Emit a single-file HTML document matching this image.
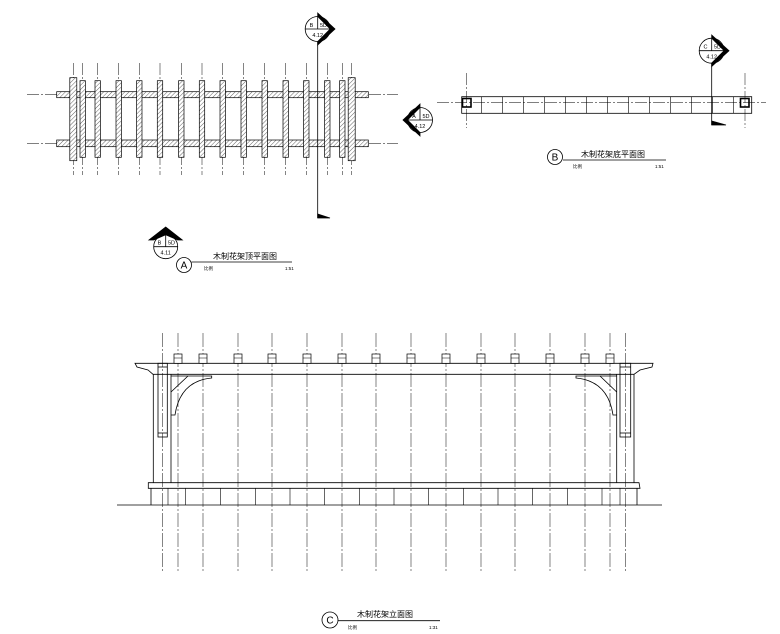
<!DOCTYPE html>
<html><head><meta charset="utf-8"><style>
html,body{margin:0;padding:0;background:#fff}
svg{display:block}
text{font-family:"Liberation Sans","Noto Sans CJK SC",sans-serif;fill:#000}
</style></head><body>
<svg width="780" height="634" viewBox="0 0 780 634" xmlns="http://www.w3.org/2000/svg">
<defs>
<pattern id="h" width="3" height="3" patternUnits="userSpaceOnUse" patternTransform="rotate(45)">
<rect width="3" height="3" fill="#fff"/><line x1="0" y1="0" x2="0" y2="3" stroke="#555" stroke-width="0.9"/>
</pattern>
</defs>
<g fill="none" stroke="#000" stroke-width="0.8">
<!-- PLAN A centerlines -->
<g stroke="#333" stroke-width="0.6" stroke-dasharray="12,2,2,2">
<line x1="27" y1="94.7" x2="398" y2="94.7"/>
<line x1="27" y1="143.3" x2="398" y2="143.3"/>
<line x1="73.3" y1="63" x2="73.3" y2="175"/><line x1="82.7" y1="63" x2="82.7" y2="175"/>
<line x1="97.7" y1="63" x2="97.7" y2="175"/><line x1="118.7" y1="63" x2="118.7" y2="175"/>
<line x1="139.3" y1="63" x2="139.3" y2="175"/><line x1="160" y1="63" x2="160" y2="175"/>
<line x1="181.3" y1="63" x2="181.3" y2="175"/><line x1="202" y1="63" x2="202" y2="175"/>
<line x1="222.7" y1="63" x2="222.7" y2="175"/><line x1="243.7" y1="63" x2="243.7" y2="175"/>
<line x1="264.7" y1="63" x2="264.7" y2="175"/><line x1="285.7" y1="63" x2="285.7" y2="175"/>
<line x1="306.3" y1="63" x2="306.3" y2="175"/><line x1="327.3" y1="63" x2="327.3" y2="175"/>
<line x1="342.3" y1="63" x2="342.3" y2="175"/><line x1="351.7" y1="63" x2="351.7" y2="175"/>
</g>
<g fill="url(#h)" stroke-width="0.7">
<rect x="56.7" y="91.7" width="311.6" height="6"/>
<rect x="56.7" y="140" width="311.6" height="6.7"/>
<rect x="69.8" y="77.7" width="7" height="83"/><rect x="348.2" y="77.7" width="7" height="83"/>
<rect x="80" y="80.7" width="5.4" height="76.6"/><rect x="95" y="80.7" width="5.4" height="76.6"/>
<rect x="116" y="80.7" width="5.4" height="76.6"/><rect x="136.6" y="80.7" width="5.4" height="76.6"/>
<rect x="157.3" y="80.7" width="5.4" height="76.6"/><rect x="178.6" y="80.7" width="5.4" height="76.6"/>
<rect x="199.3" y="80.7" width="5.4" height="76.6"/><rect x="220" y="80.7" width="5.4" height="76.6"/>
<rect x="241" y="80.7" width="5.4" height="76.6"/><rect x="262" y="80.7" width="5.4" height="76.6"/>
<rect x="283" y="80.7" width="5.4" height="76.6"/><rect x="303.6" y="80.7" width="5.4" height="76.6"/>
<rect x="324.6" y="80.7" width="5.4" height="76.6"/><rect x="339.6" y="80.7" width="5.4" height="76.6"/>
</g>
<!-- section B on plan A -->
<line x1="317.7" y1="42" x2="317.7" y2="218"/>
<path d="M317.7 214 L330 218 L317.7 218 Z" fill="#000"/>
<circle cx="317.7" cy="29" r="12.5" fill="#fff"/>
<line x1="305.2" y1="29" x2="330.2" y2="29"/><line x1="317.7" y1="16.5" x2="317.7" y2="29"/>
<path d="M317.7 13 L335 29 L317.7 45 L317.7 41.5 L330.2 29 L317.7 16.5 Z" fill="#000"/>
<!-- section A symbol -->
<circle cx="420" cy="120" r="12.5" fill="#fff"/>
<line x1="407.5" y1="120" x2="432.5" y2="120"/><line x1="420" y1="107.5" x2="420" y2="120"/>
<path d="M420 104 L403 120 L420 136 L420 132.5 L407.5 120 L420 107.5 Z" fill="#000"/>
<!-- label A symbol -->
<circle cx="165.7" cy="246.7" r="12" fill="#fff"/>
<line x1="153.7" y1="246.7" x2="177.7" y2="246.7"/><line x1="165.7" y1="234.7" x2="165.7" y2="246.7"/>
<path d="M149 240 L165.7 227 L182.3 240 L177.7 240 L165.7 234.7 L153.7 240 Z" fill="#000"/>
<circle cx="184" cy="265" r="7.5"/>
<line x1="191.5" y1="262" x2="292" y2="262"/>

<!-- PLAN B -->
<g stroke="#333" stroke-width="0.6" stroke-dasharray="12,2,2,2">
<line x1="437" y1="102.7" x2="766" y2="102.7"/>
<line x1="466.7" y1="73" x2="466.7" y2="128"/>
<line x1="745" y1="73" x2="745" y2="128"/>
</g>
<rect x="461.7" y="96.7" width="290" height="16.6"/>
<g stroke-width="0.6">
<line x1="481.7" y1="96.7" x2="481.7" y2="113.3"/><line x1="502.7" y1="96.7" x2="502.7" y2="113.3"/>
<line x1="523.7" y1="96.7" x2="523.7" y2="113.3"/><line x1="544.7" y1="96.7" x2="544.7" y2="113.3"/>
<line x1="565.7" y1="96.7" x2="565.7" y2="113.3"/><line x1="586.7" y1="96.7" x2="586.7" y2="113.3"/>
<line x1="607.7" y1="96.7" x2="607.7" y2="113.3"/><line x1="628.7" y1="96.7" x2="628.7" y2="113.3"/>
<line x1="649.7" y1="96.7" x2="649.7" y2="113.3"/><line x1="670.7" y1="96.7" x2="670.7" y2="113.3"/>
<line x1="691.7" y1="96.7" x2="691.7" y2="113.3"/><line x1="712.7" y1="96.7" x2="712.7" y2="113.3"/>
<line x1="733.7" y1="96.7" x2="733.7" y2="113.3"/>
</g>
<rect x="462.5" y="98.5" width="8.5" height="8.5" stroke-width="1.6"/>
<rect x="740.5" y="98.5" width="8.5" height="8.5" stroke-width="1.6"/>
<line x1="711.7" y1="63" x2="711.7" y2="125"/>
<path d="M711.7 121 L726 125 L711.7 125 Z" fill="#000"/>
<circle cx="711.7" cy="50.7" r="12.5" fill="#fff"/>
<line x1="699.2" y1="50.7" x2="724.2" y2="50.7"/><line x1="711.7" y1="38.2" x2="711.7" y2="50.7"/>
<path d="M711.7 35 L729 50.7 L711.7 66.5 L711.7 63 L724.2 50.7 L711.7 38.2 Z" fill="#000"/>
<circle cx="555" cy="157" r="7.5"/>
<line x1="563" y1="160" x2="666" y2="160"/>

<!-- ELEVATION C -->
<g stroke="#333" stroke-width="0.6" stroke-dasharray="14,2,2,2">
<line x1="162.7" y1="333" x2="162.7" y2="572"/><line x1="178" y1="333" x2="178" y2="572"/>
<line x1="203" y1="333" x2="203" y2="572"/><line x1="238" y1="333" x2="238" y2="572"/>
<line x1="272" y1="333" x2="272" y2="572"/><line x1="307" y1="333" x2="307" y2="572"/>
<line x1="342" y1="333" x2="342" y2="572"/><line x1="376" y1="333" x2="376" y2="572"/>
<line x1="411" y1="333" x2="411" y2="572"/><line x1="446" y1="333" x2="446" y2="572"/>
<line x1="481" y1="333" x2="481" y2="572"/><line x1="515" y1="333" x2="515" y2="572"/>
<line x1="550" y1="333" x2="550" y2="572"/><line x1="585" y1="333" x2="585" y2="572"/>
<line x1="610" y1="333" x2="610" y2="572"/><line x1="625.7" y1="333" x2="625.7" y2="572"/>
</g>
<!-- beam -->
<path d="M135 363.3 L653 363.3 L652 367 L640 370 L634 374.3 L153 374.3 L148 370 L137 367 Z"/>
<!-- rafter blocks -->
<g fill="#fff" stroke-width="0.7">
<rect x="174" y="354" width="8" height="9.3"/><rect x="199" y="354" width="8" height="9.3"/>
<rect x="234" y="354" width="8" height="9.3"/><rect x="268" y="354" width="8" height="9.3"/>
<rect x="303" y="354" width="8" height="9.3"/><rect x="338" y="354" width="8" height="9.3"/>
<rect x="372" y="354" width="8" height="9.3"/><rect x="407" y="354" width="8" height="9.3"/>
<rect x="442" y="354" width="8" height="9.3"/><rect x="477" y="354" width="8" height="9.3"/>
<rect x="511" y="354" width="8" height="9.3"/><rect x="546" y="354" width="8" height="9.3"/>
<rect x="581" y="354" width="8" height="9.3"/><rect x="606" y="354" width="8" height="9.3"/>
</g>
<g stroke-width="0.5">
<line x1="174" y1="358" x2="182" y2="358"/><line x1="199" y1="358" x2="207" y2="358"/>
<line x1="234" y1="358" x2="242" y2="358"/><line x1="268" y1="358" x2="276" y2="358"/>
<line x1="303" y1="358" x2="311" y2="358"/><line x1="338" y1="358" x2="346" y2="358"/>
<line x1="372" y1="358" x2="380" y2="358"/><line x1="407" y1="358" x2="415" y2="358"/>
<line x1="442" y1="358" x2="450" y2="358"/><line x1="477" y1="358" x2="485" y2="358"/>
<line x1="511" y1="358" x2="519" y2="358"/><line x1="546" y1="358" x2="554" y2="358"/>
<line x1="581" y1="358" x2="589" y2="358"/><line x1="606" y1="358" x2="614" y2="358"/>
</g>
<!-- posts -->
<line x1="153.3" y1="374.3" x2="153.3" y2="483"/><line x1="171" y1="374.3" x2="171" y2="483"/>
<rect x="158" y="363.3" width="9.3" height="73.7"/>
<line x1="158" y1="367" x2="167.3" y2="367"/><line x1="158" y1="433" x2="167.3" y2="433"/>
<line x1="616.7" y1="374.3" x2="616.7" y2="483"/><line x1="634" y1="374.3" x2="634" y2="483"/>
<rect x="620" y="363.3" width="10.7" height="73.7"/>
<line x1="620" y1="367" x2="630.7" y2="367"/><line x1="620" y1="433" x2="630.7" y2="433"/>
<!-- brackets -->
<path d="M171 376 L211.7 376 L211.7 378 Q180 381 175 415 L171 415"/>
<line x1="171" y1="392" x2="188" y2="376"/>
<path d="M616.7 376 L576 376 L576 378 Q608 381 613 415 L616.7 415"/>
<line x1="616.7" y1="392" x2="600" y2="376"/>
<!-- base -->
<path d="M148.3 482.7 L639 482.7 L640 488.3 L148.3 488.3 Z"/>
<line x1="151" y1="488.3" x2="151" y2="505"/><line x1="637" y1="488.3" x2="637" y2="505"/>
<g stroke-width="0.6">
<line x1="168" y1="488" x2="168" y2="505"/><line x1="185.7" y1="488" x2="185.7" y2="505"/>
<line x1="220.7" y1="488" x2="220.7" y2="505"/><line x1="255.3" y1="488" x2="255.3" y2="505"/>
<line x1="290" y1="488" x2="290" y2="505"/><line x1="324.7" y1="488" x2="324.7" y2="505"/>
<line x1="359.3" y1="488" x2="359.3" y2="505"/><line x1="394" y1="488" x2="394" y2="505"/>
<line x1="428.7" y1="488" x2="428.7" y2="505"/><line x1="463.3" y1="488" x2="463.3" y2="505"/>
<line x1="498" y1="488" x2="498" y2="505"/><line x1="532.7" y1="488" x2="532.7" y2="505"/>
<line x1="567.3" y1="488" x2="567.3" y2="505"/><line x1="602" y1="488" x2="602" y2="505"/>
<line x1="620" y1="488" x2="620" y2="505"/>
</g>
<line x1="117" y1="505" x2="662" y2="505"/>
<circle cx="330" cy="620" r="8"/>
<line x1="338" y1="620.7" x2="440" y2="620.7"/>
</g>
<!-- texts -->
<g font-size="5.5" text-anchor="middle">
<text x="311.5" y="27">B</text><text x="323.5" y="27">5D</text><text x="317.7" y="37">4.12</text>
<text x="414" y="118">A</text><text x="426" y="118">5D</text><text x="420" y="128">4.12</text>
<text x="159.5" y="244.5">B</text><text x="171.5" y="244.5">5D</text><text x="165.7" y="254.5">4.11</text>
<text x="705.5" y="48.5">C</text><text x="717.5" y="48.5">5D</text><text x="711.7" y="58.5">4.12</text>
</g>
<g font-size="10" text-anchor="middle">
<text x="184" y="268.5">A</text><text x="555" y="160.5">B</text><text x="330" y="623.5">C</text>
</g>
<g font-size="8" text-anchor="middle">
<text x="245" y="259">木制花架顶平面图</text>
<text x="613" y="157">木制花架底平面图</text>
<text x="385" y="617">木制花架立面图</text>
</g>
<g font-size="4.5">
<text x="204" y="270">比例</text><text x="285" y="270">1:51</text>
<text x="573" y="168">比例</text><text x="655" y="168">1:51</text>
<text x="348" y="629">比例</text><text x="429" y="629">1:31</text>
</g>
</svg>
</body></html>
